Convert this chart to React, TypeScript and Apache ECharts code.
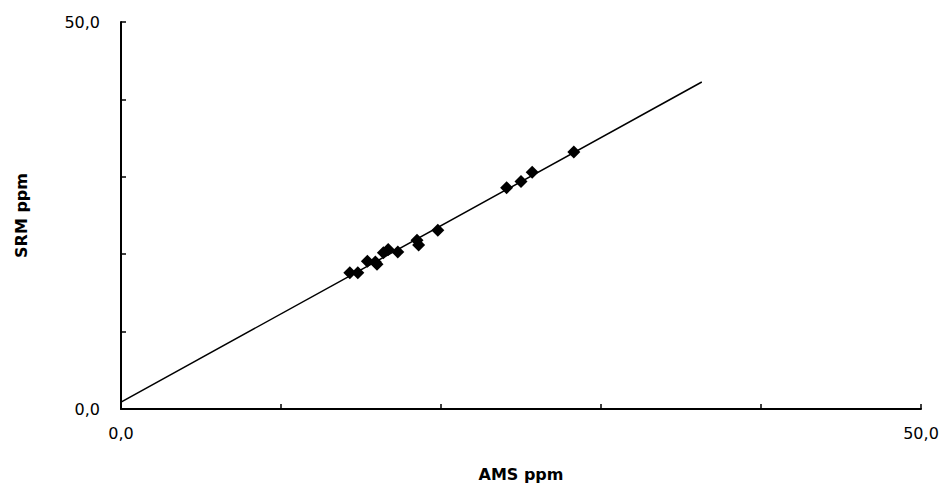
import React, { useEffect, useRef } from "react";
import * as echarts from "echarts";

const amsValues = [14.3, 14.8, 15.4, 15.9, 16.0, 16.4, 16.7, 17.3, 18.5, 18.6, 19.8, 24.1, 25.0, 25.7, 28.3];
const srmValues = [17.6, 17.6, 19.1, 19.0, 18.7, 20.2, 20.6, 20.3, 21.8, 21.2, 23.1, 28.6, 29.4, 30.6, 33.2];
const trendX = [0, 36.3];
const trendY = [0.9, 42.25];
const xTickLabels = ["0,0", "50,0"];
const yTickLabels = ["0,0", "50,0"];

export default function App() {
  const ref = useRef<HTMLDivElement>(null);
  useEffect(() => {
    if (!ref.current) return;
    const chart = echarts.init(ref.current, null, { renderer: "svg" });
    const font = "'DejaVu Sans', Arial, sans-serif";
    const fmt = (labels: string[]) => (v: number) =>
      v === 0 ? labels[0] : v === 50 ? labels[1] : "";
    chart.setOption({
      animation: false,
      backgroundColor: "#ffffff",
      textStyle: { fontFamily: font },
      grid: { left: 121, right: 23, top: 22, bottom: 84 },
      xAxis: {
        type: "value",
        min: 0,
        max: 50,
        interval: 10,
        name: "AMS ppm",
        nameLocation: "middle",
        nameGap: 57,
        nameTextStyle: { fontFamily: font, fontSize: 16, fontWeight: "bold", color: "#000" },
        axisLine: { show: true, lineStyle: { color: "#000", width: 2 } },
        axisTick: { show: true, inside: true, length: 5, lineStyle: { color: "#000", width: 1.5 } },
        splitLine: { show: false },
        axisLabel: { formatter: fmt(xTickLabels), fontFamily: font, fontSize: 16, color: "#000", margin: 16 },
      },
      yAxis: {
        type: "value",
        min: 0,
        max: 50,
        interval: 10,
        name: "SRM ppm",
        nameLocation: "middle",
        nameGap: 92,
        nameRotate: 90,
        nameTextStyle: { fontFamily: font, fontSize: 16, fontWeight: "bold", color: "#000" },
        axisLine: { show: true, lineStyle: { color: "#000", width: 2 } },
        axisTick: { show: true, inside: true, length: 5, lineStyle: { color: "#000", width: 1.5 } },
        splitLine: { show: false },
        axisLabel: { formatter: fmt(yTickLabels), fontFamily: font, fontSize: 16, color: "#000", margin: 21 },
      },
      series: [
        {
          type: "line",
          data: trendX.map((x, i) => [x, trendY[i]]),
          symbol: "none",
          lineStyle: { color: "#000", width: 1.5 },
          z: 2,
        },
        {
          type: "scatter",
          data: amsValues.map((x, i) => [x, srmValues[i]]),
          symbol: "diamond",
          symbolSize: 13,
          itemStyle: { color: "#000", opacity: 1 },
          z: 3,
        },
      ],
    });
    return () => chart.dispose();
  }, []);
  return (
    <div
      ref={ref}
      style={{ position: "absolute", left: 0, top: 0, width: 944, height: 493 }}
    />
  );
}
